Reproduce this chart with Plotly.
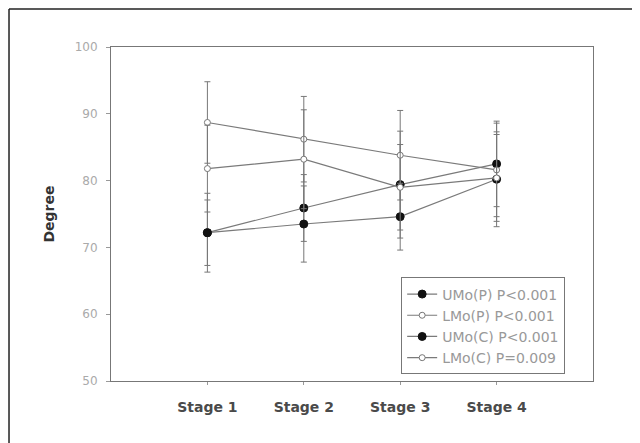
import plotly.graph_objects as go

stages = ["Stage 1", "Stage 2", "Stage 3", "Stage 4"]
x_pos = [1, 2, 3, 4]

umo_p = [72.2, 75.9, 79.4, 82.5]
umo_p_sd = [5.9, 5.0, 8.0, 6.4]
lmo_p = [88.7, 86.2, 83.8, 81.6]
lmo_p_sd = [6.1, 6.4, 6.7, 7.0]
umo_c = [72.2, 73.5, 74.6, 80.2]
umo_c_sd = [4.9, 5.7, 5.0, 7.1]
lmo_c = [81.8, 83.2, 79.0, 80.4]
lmo_c_sd = [6.5, 7.4, 6.4, 6.5]

names = ["UMo(P) P<0.001", "LMo(P) P<0.001", "UMo(C) P<0.001", "LMo(C) P=0.009"]
series = [umo_p, lmo_p, umo_c, lmo_c]
sds = [umo_p_sd, lmo_p_sd, umo_c_sd, lmo_c_sd]
filled = [True, False, True, False]

FONT = "DejaVu Sans, Verdana, sans-serif"

fig = go.Figure()
for name, ys, sd, f in zip(names, series, sds, filled):
    fig.add_trace(go.Scatter(
        x=x_pos, y=ys, name=name, mode="lines+markers",
        line=dict(color="#7a7a7a", width=1.2),
        marker=dict(symbol="circle", size=8 if f else 6,
                    color="#111111" if f else "white",
                    line=dict(color="#111111" if f else "#777777", width=1)),
        error_y=dict(type="data", array=sd, visible=True,
                     color="#777777", thickness=1, width=3),
    ))

fig.update_layout(
    width=632, height=435,
    margin=dict(l=103, r=47, t=39, b=62),
    paper_bgcolor="white", plot_bgcolor="white",
    font=dict(family=FONT, size=12, color="#999999"),
    showlegend=True,
    legend=dict(x=0.602, y=0.31, xanchor="left", yanchor="top",
                bordercolor="#777777", borderwidth=1, bgcolor="white",
                font=dict(size=14, color="#999999", family=FONT), tracegroupgap=0,
                itemwidth=30),
    xaxis=dict(range=[0, 5], tickvals=x_pos,
               ticktext=["<b>%s</b>" % s for s in stages],
               showgrid=False, zeroline=False, showline=True, mirror=True,
               linecolor="#777777", linewidth=1,
               ticks="outside", ticklen=3, tickcolor="#999999",
               ticklabelstandoff=10,
               tickfont=dict(size=14, color="#4a4a4a", family=FONT)),
    yaxis=dict(range=[50, 100], tickvals=[50, 60, 70, 80, 90, 100],
               showgrid=False, zeroline=False, showline=True, mirror=True,
               linecolor="#777777", linewidth=1,
               ticks="outside", ticklen=4, tickcolor="#999999",
               ticklabelstandoff=6,
               tickfont=dict(size=12, color="#aaaaaa", family=FONT),
               title=dict(text="<b>Degree</b>", standoff=16,
                          font=dict(size=14, color="#333333", family=FONT))),
)

# outer frame (left and top edges visible in the picture)
fig.add_shape(type="line", xref="paper", yref="paper",
              x0=-0.2116, x1=-0.2116, y0=1.1138, y1=-0.3,
              line=dict(color="#222222", width=1.5))
fig.add_shape(type="line", xref="paper", yref="paper",
              x0=-0.2116, x1=1.2, y0=1.1138, y1=1.1138,
              line=dict(color="#222222", width=1.5))

fig.write_html("out.html")
